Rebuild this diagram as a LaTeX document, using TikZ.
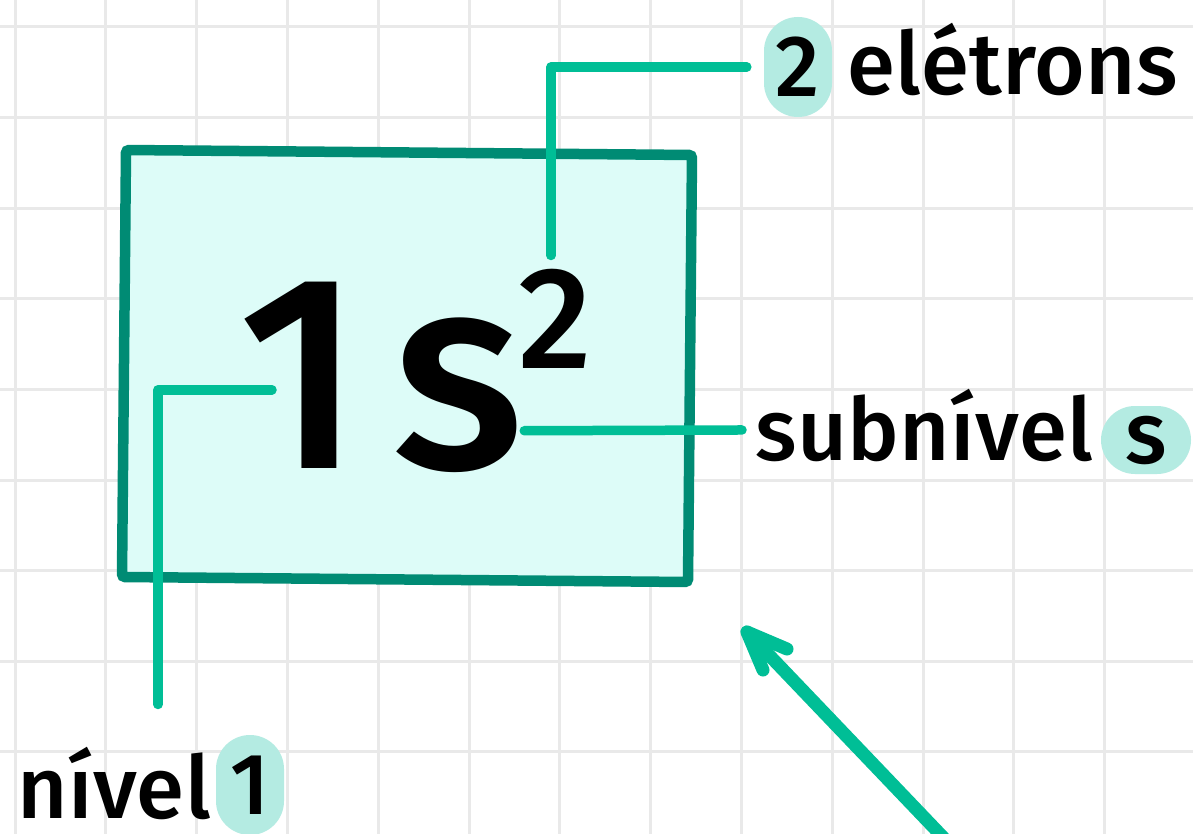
\documentclass[tikz,border=0pt]{standalone}
\usepackage{fontspec}
\setmainfont{Fira Sans}
\newfontfamily\labelfont[LetterSpace=0.5,UprightFont={* Medium}]{Fira Sans}
\newfontfamily\bigfont[UprightFont={* Medium}]{Fira Sans}
\definecolor{gridGray}{RGB}{233,233,233}
\definecolor{boxTeal}{RGB}{0,139,116}
\definecolor{boxFill}{RGB}{221,252,248}
\definecolor{linkTeal}{RGB}{0,190,150}
\definecolor{pillTeal}{RGB}{180,235,226}

\begin{document}
\begin{tikzpicture}[x=1pt,y=-1pt,
  link/.style={draw=linkTeal,line width=9.5pt,line cap=round,line join=round},
  pill/.style={fill=pillTeal,rounded corners=34pt,minimum width=68pt,minimum height=100pt,inner sep=0pt,
    font=\labelfont\fontsize{87}{90}\selectfont},
  lbl/.style={inner sep=0pt,anchor=base west,font=\labelfont\fontsize{87}{90}\selectfont},
  big/.style={inner sep=0pt,anchor=base west,font=\bigfont\fontsize{277}{280}\selectfont}]
\useasboundingbox (0,0) rectangle (1193,834);
\clip (0,0) rectangle (1193,834);
\fill[white] (0,0) rectangle (1193,834);
% grid paper
\foreach \gx in {0,...,12}
  \draw[gridGray,line width=3pt] ({15+90.8*\gx},0) -- ({15+90.8*\gx},834);
\foreach \gy in {0,...,8}
  \draw[gridGray,line width=3pt] (0,{27+90.6*\gy}) -- (1193,{27+90.6*\gy});
% the box
\draw[boxTeal,fill=boxFill,line width=10.5pt,rounded corners=3pt]
  (126,150) -- (692,155) -- (688,582) -- (122,577) -- cycle;
\node[big] (one) at (238,468) {1};
\node[big] (ess) at (392,468) {s};
\node[inner sep=0pt,anchor=base west,font=\bigfont\fontsize{145}{150}\selectfont] (sup) at (518,368) {2};
% highlighted parts
\node[pill] (twoTag) at (798,67) {2};
\node[pill] (oneTag) at (250,785) {1};
\node[pill,minimum width=90pt,minimum height=68pt] (essTag) at (1146,440) {s};
% labels
\node[lbl] (elec) at (847,95) {elétrons};
\node[lbl] (sub) at (755,460) {subnível};
\node[lbl] (lvl) at (17,818) {nível};
% connectors
\draw[link] ([xshift=-4pt,yshift=13pt]sup.north) |- ([xshift=-17pt]twoTag.west);
\draw[link] ([xshift=34pt,yshift=-15pt]one.west) -| ([xshift=44pt,yshift=42pt]lvl.north);
\draw[link] ([yshift=-36pt]ess.east) -- ([xshift=-13pt,yshift=-5pt]sub.west);
% pointer arrow
\coordinate (arrTail) at (960,855);
\coordinate (arrTip) at (747,632);
\coordinate (wingA) at (787,649);
\coordinate (wingB) at (763,670);
\draw[link,line width=13pt] (arrTail) -- (arrTip);
\draw[link,line width=13pt] (wingA) -- (arrTip) -- (wingB);
\end{tikzpicture}
\end{document}
